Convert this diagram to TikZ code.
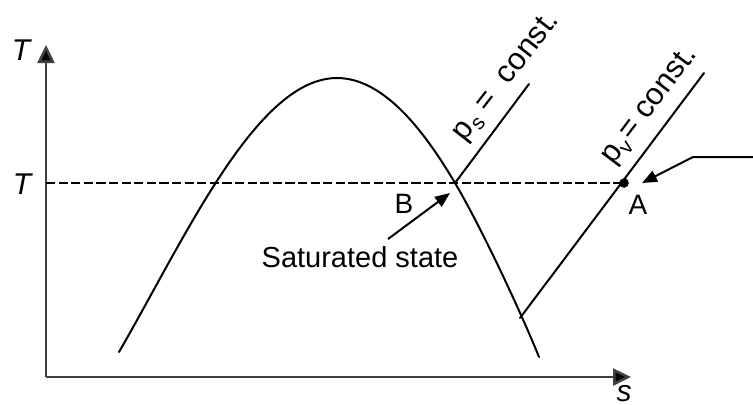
\documentclass[tikz,border=0pt]{standalone}
\usepackage{fontspec}
\setmainfont{Liberation Sans}
\usetikzlibrary{arrows.meta}
\newcommand{\mysub}[1]{\raisebox{-0.35ex}{\fontsize{10.5}{11}\selectfont #1}}
\begin{document}
\begin{tikzpicture}[x=0.5pt,y=-0.5pt,
  curve/.style={line width=1pt, line cap=round},
  axis/.style={line width=1.3pt, draw=black!75, -{Triangle[length=9pt,width=8.5pt,fill=black]}},
  pointer/.style={line width=1pt, -{Triangle[length=7.5pt,width=6pt]}},
  lbl/.style={font=\fontsize{14}{16}\selectfont, inner sep=0pt},
  rotlbl/.style={font=\fontsize{15.5}{18}\selectfont, inner sep=0pt},
  biglbl/.style={font=\fontsize{14.5}{16}\selectfont, inner sep=0pt},
  axlbl/.style={font=\fontsize{15}{16}\selectfont\itshape, inner sep=0pt},
  dashline/.style={line width=1.1pt, dash pattern=on 4.6pt off 1.7pt}]
\useasboundingbox (0,0) rectangle (753,404);
% axes
\coordinate (O) at (46,377);
\coordinate (Ttip) at (46,45);
\coordinate (Stip) at (631,377);
\draw[axis] (O) -- (Ttip);
\draw[axis] (O) -- (Stip);
\node[axlbl] (Tlbl) at (21,50) {T};
\node[axlbl] (Tlvl) at (22,184) {T};
\node[axlbl, anchor=north] (slbl) at (624,385) {s};
% key points
\coordinate (Tax) at (46,183);
\coordinate (B) at (455,183);
\coordinate (A) at (624,183);
\coordinate (J) at (520,318);
\coordinate (psend) at (529,84);
\coordinate (pvend) at (704,73);
% dome
\draw[curve] (119,352) .. controls (186,236) and (257,78) .. (337,78)
  .. controls (382,78) and (422,127) .. (B)
  .. controls (480,225) and (520,310) .. (539,357);
% dashed isotherm
\draw[dashline] (Tax) -- (A);
% isobars
\draw[curve] (B) -- (psend);
\draw[curve] (J) -- (pvend);
\fill (A) circle[radius=4.8];
% labels
\node[rotlbl, rotate=52] (pslbl) at (507,77) {p\mysub{s} =\; const.};
\node[rotlbl, rotate=53] (pvlbl) at (650,106) {p\mysub{v}\kern1.2pt= const.};
\node[lbl] (Albl) at (638,205) {A};
\node[lbl] (Blbl) at (404,204) {B};
\node[biglbl] (sat) at (360,257) {Saturated state};
% pointers
\draw[pointer] (388,239) -- (450,193);
\coordinate (Ain) at (753,157);
\coordinate (Abend) at (693,157);
\draw[pointer] (Ain) -- (Abend) -- (642,183);
\end{tikzpicture}
\end{document}
